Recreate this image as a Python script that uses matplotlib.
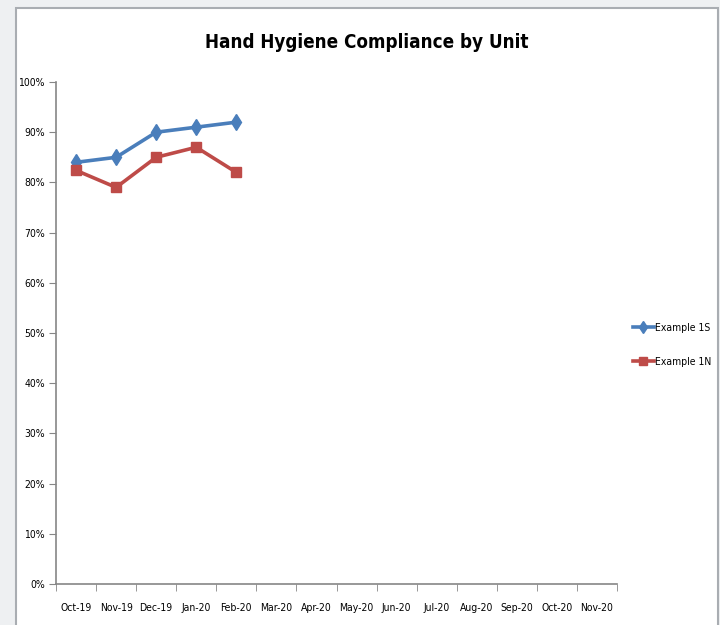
import numpy as np
import matplotlib.pyplot as plt
from matplotlib.patches import Rectangle
from matplotlib.ticker import FixedLocator, PercentFormatter

months = ['Oct-19', 'Nov-19', 'Dec-19', 'Jan-20', 'Feb-20', 'Mar-20', 'Apr-20',
          'May-20', 'Jun-20', 'Jul-20', 'Aug-20', 'Sep-20', 'Oct-20', 'Nov-20']
example_1s = [84, 85, 90, 91, 92]
example_1n = [82.4, 79, 85, 87, 82]

plt.rcParams['font.family'] = ['DejaVu Sans']
plt.rcParams['font.stretch'] = 'condensed'

fig = plt.figure(figsize=(7.2, 6.25), dpi=100)
fig.patch.set_facecolor('#eef0f2')
# white chart area with grey frame
fig.patches.append(Rectangle((16/720, -0.05), (718-16)/720, 1 - 8/625 + 0.05,
                             transform=fig.transFigure, facecolor='white',
                             edgecolor='#a9adb2', linewidth=1.5, zorder=-5))

ax = fig.add_axes([56/720, 1 - 584/625, (617-56)/720, (584-82)/625])
ax.set_facecolor('none')
ax.set_zorder(2)

x = np.arange(len(months))
ax.plot(x[:len(example_1s)], example_1s, color='#4a7ebb', lw=2.6, marker='d',
        ms=8, label='Example 1S')
ax.plot(x[:len(example_1n)], example_1n, color='#be4b48', lw=2.6, marker='s',
        ms=7, label='Example 1N')

ax.set_xlim(-0.5, len(months) - 0.5)
ax.set_ylim(0, 100)
ax.set_yticks(np.arange(0, 101, 10))
ax.yaxis.set_major_formatter(PercentFormatter(decimals=0))
ax.set_xticks(x)
ax.set_xticklabels(months)
ax.xaxis.set_minor_locator(FixedLocator(np.arange(-0.5, len(months), 1)))
ax.tick_params(axis='x', which='major', length=0, pad=14, labelsize=7.5)
ax.tick_params(axis='x', which='minor', length=5, color='#868686', direction='out')
ax.tick_params(axis='y', length=5, color='#868686', labelsize=7.5, pad=3)

for s in ['top', 'right']:
    ax.spines[s].set_visible(False)
for s in ['left', 'bottom']:
    ax.spines[s].set_color('#868686')
    ax.spines[s].set_linewidth(1.2)

fig.text(367/720, 1 - 42/625, 'Hand Hygiene Compliance by Unit', ha='center',
         va='center', fontsize=13.5, fontweight='bold')

leg = fig.legend(loc='center left', bbox_to_anchor=(633/720, 1 - 345/625), frameon=False,
                 fontsize=7.5, handlelength=2.0, handletextpad=0.1, labelspacing=2.3,
                 markerscale=0.8, borderpad=0, borderaxespad=0)
leg.set_zorder(3)

fig.savefig('out.png', dpi=100)
